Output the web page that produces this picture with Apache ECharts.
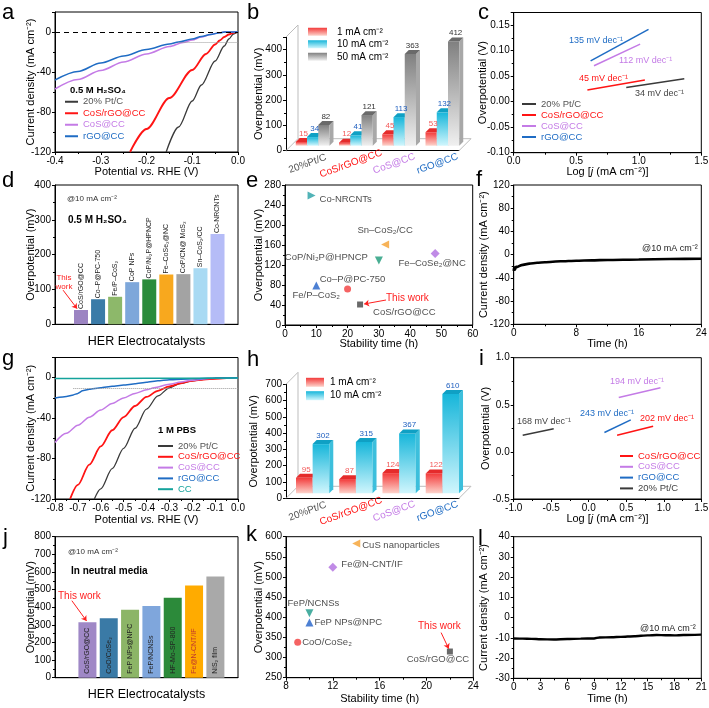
<!DOCTYPE html>
<html><head><meta charset="utf-8">
<script src="https://cdn.jsdelivr.net/npm/echarts@6/dist/echarts.min.js"></script>
<style>html,body{margin:0;padding:0;background:#fff}#c{width:709px;height:708px}</style>
</head><body><div id="c"></div>
<script>
// ================= DATA =================
// (a) LSV in 0.5 M H2SO4 : [potential V, current mA cm-2]
const aNames = ['20% Pt/C','CoS/rGO@CC','CoS@CC','rGO@CC'];
const aPtC   = [[-0.157,-120],[-0.13,-95],[-0.1,-69],[-0.08,-53],[-0.05,-29],[-0.03,-14],[-0.02,-7],[-0.01,-2],[0,0]];
const aCoSrGO= [[-0.236,-120],[-0.2,-97],[-0.15,-66],[-0.1,-38],[-0.07,-22],[-0.05,-12.5],[-0.04,-8.5],[-0.03,-5],[-0.02,-2.5],[-0.01,-0.8],[0,0]];
const aCoS   = [[-0.4,-57],[-0.35,-47.5],[-0.3,-38.5],[-0.25,-30],[-0.2,-22],[-0.15,-14.5],[-0.12,-10.5],[-0.1,-8],[-0.08,-5],[-0.06,-2.5],[-0.04,-0.8],[-0.03,0],[0,0]];
const aRGO   = [[-0.4,-48],[-0.35,-39.5],[-0.3,-31],[-0.25,-24],[-0.2,-17.5],[-0.15,-12],[-0.13,-10],[-0.1,-7],[-0.08,-4.5],[-0.06,-2.5],[-0.04,-0.8],[-0.03,0],[0,0]];
// (b) overpotentials (mV)
const bCats = ['20%Pt/C','CoS/rGO@CC','CoS@CC','rGO@CC'];
const bLegend = ['1 mA cm⁻²','10 mA cm⁻²','50 mA cm⁻²'];
const b1  = [15,12,45,53];
const b10 = [34,41,113,132];
const b50 = [82,121,363,412];
// (c) Tafel lines
const cPt   = [[0.90,0.028],[1.364,0.045]];
const cRed  = [[0.589,0.023],[1.049,0.0425]];
const cVio  = [[0.642,0.0706],[1.011,0.113]];
const cBlue = [[0.615,0.080],[1.078,0.142]];
const cSlopes = ['135 mV dec⁻¹','112 mV dec⁻¹','45 mV dec⁻¹','34 mV dec⁻¹'];
// (d) comparison, acidic
const dNames = ['CoS/rGO@CC','Co–P@PC-750','Fe/P–CoS₂','CoP NFs','CoP/Ni₂P@HPNCP','Fe–CoSe₂@NC','CoP/CN@ MoS₂','Sn–CoS₂/CC','Co-NRCNTs'];
const dVals  = [41,72,79,121,129,143,144,161,259];
// (e) stability vs overpotential, acidic
const eNames = ['Co-NRCNTs','Sn–CoS₂/CC','CoP/Ni₂P@HPNCP','Fe–CoSe₂@NC','Co–P@PC-750','Fe/P–CoS₂','CoS/rGO@CC'];
const eTime  = [8.5,32,30,48,20,10,24];
const eEta   = [259,161,129,143,72,79,41];
// (f) chronoamperometry, acidic
const fCurve = [[0,-28],[0.05,-22],[0.15,-26],[0.3,-21],[0.5,-21],[1,-18],[2,-15.5],[3,-14],[4,-13],[6,-11.5],[8,-10.5],[10,-9.8],[12,-9.2],[16,-8.3],[20,-7.6],[24,-7]];
// (g) LSV in 1 M PBS
const gNames = ['20% Pt/C','CoS/rGO@CC','CoS@CC','rGO@CC','CC'];
const gPtC   = [[-0.628,-120],[-0.6,-110],[-0.55,-90],[-0.5,-70],[-0.45,-50],[-0.4,-31],[-0.35,-18],[-0.3,-10],[-0.25,-5.5],[-0.2,-3],[-0.15,-1.5],[-0.1,-0.6],[0,0]];
const gCoSrGO= [[-0.734,-120],[-0.7,-106],[-0.65,-86],[-0.6,-68],[-0.55,-52],[-0.5,-39],[-0.45,-28],[-0.4,-19],[-0.35,-13],[-0.3,-8.5],[-0.25,-5.5],[-0.2,-3],[-0.15,-1.8],[-0.1,-1],[-0.05,-0.5]];
const gCoS   = [[-0.8,-64],[-0.75,-55],[-0.7,-47],[-0.65,-39],[-0.6,-32],[-0.55,-25.5],[-0.5,-20],[-0.45,-15.5],[-0.4,-12],[-0.367,-10],[-0.3,-6.5],[-0.25,-4.2],[-0.2,-2.5],[-0.15,-1.3],[-0.1,-0.5],[0,0]];
const gRGO   = [[-0.8,-20],[-0.75,-18.5],[-0.72,-17],[-0.7,-15.5],[-0.68,-13],[-0.65,-11.5],[-0.6,-10],[-0.55,-8.5],[-0.5,-7.3],[-0.45,-6],[-0.4,-4.5],[-0.35,-3],[-0.3,-2],[-0.2,-1],[-0.1,-0.4],[0,0]];
const gCC    = [[-0.8,-0.8],[-0.4,-0.6],[0,-0.3]];
// (h) overpotentials, neutral
const hCats = ['20%Pt/C','CoS/rGO@CC','CoS@CC','rGO@CC'];
const hLegend = ['1 mA cm⁻²','10 mA cm⁻²'];
const h1  = [95,87,124,122];
const h10 = [302,315,367,610];
// (i) Tafel, neutral
const iNames = ['CoS/rGO@CC','CoS@CC','rGO@CC','20% Pt/C'];
const iRed  = [[0.378,0.177],[0.858,0.273]];
const iVio  = [[0.40,0.578],[0.956,0.681]];
const iBlue = [[0.209,0.206],[0.56,0.34]];
const iPt   = [[-0.88,0.177],[-0.467,0.245]];
const iSlopes = ['194 mV dec⁻¹','243 mV dec⁻¹','202 mV dec⁻¹','168 mV dec⁻¹'];
// (j) comparison, neutral
const jNames = ['CoS/rGO@CC','CoO/CoSe₂','FeP NPs@NPC','FeP/NCNSs','HF-Mo-SP-800','Fe@N-CNT/IF','NiS₂ film'];
const jVals  = [315,337,385,407,454,523,574];
// (k) stability vs overpotential, neutral
const kNames = ['CuS nanoparticles','Fe@N-CNT/IF','FeP/NCNSs','FeP NPs@NPC','CoO/CoSe₂','CoS/rGO@CC'];
const kTime  = [14,12,10,10,9,22];
const kEta   = [583,524,410,387,338,315];
// (l) chronoamperometry, neutral
const lCurve = [[0,-10.3],[1,-10.4],[2,-10.5],[3,-10.7],[4.5,-10.8],[6,-10.6],[7.5,-10.4],[9,-10.3],[9.6,-9.8],[11,-9.7],[12,-9.5],[13.5,-9.2],[15,-8.8],[16,-8.6],[17,-8.7],[18,-8.8],[19,-8.6],[21,-8.4]];

// ================= STYLE / HELPERS =================
const FONT = '"Liberation Sans", Arial, Helvetica, sans-serif';
const C = {pt:'#3a3a3a', ptTxt:'#555555', red:'#ff1414', vio:'#c47be6', blue:'#1f6cc4', teal:'#14a39c'};
const grid=[], xAxis=[], yAxis=[], series=[], legend=[], graphic=[];

function multiples(interval, dec, min){
  return v => { const k=(v-min)/interval; return Math.abs(k-Math.round(k))<1e-6 ? (Math.abs(v)<1e-9?0:v).toFixed(dec) : ''; };
}
function addGrid(l,t,r,b,box){
  grid.push({left:l, top:t, width:r-l, height:b-t, show:!!box, borderColor:'#000', borderWidth:box?1:0,
    backgroundColor:'transparent', containLabel:false, outerBoundsMode:'none'});
  return grid.length-1;
}
function vAxis(gi,min,max,interval,dec,extra){
  const ax = {type:'value', gridIndex:gi, min, max, interval, scale:true,
    axisLine:{show:true,onZero:false,lineStyle:{color:'#000',width:1}},
    axisTick:{show:true,inside:false,length:3,lineStyle:{color:'#000',width:1}},
    minorTick:{show:true,splitNumber:2,length:2,lineStyle:{color:'#000',width:1}},
    splitLine:{show:false}, minorSplitLine:{show:false},
    axisLabel:{show:true,fontSize:10,color:'#000',fontFamily:FONT,margin:4,formatter:multiples(interval,dec,min),showMinLabel:true,showMaxLabel:true},
    nameLocation:'middle', nameMoveOverlap:false,
    nameTextStyle:{fontSize:11,color:'#000',fontFamily:FONT}};
  return Object.assign(ax, extra||{});
}
function hiddenX(gi,min,max,name,gap){
  return {type:'value', gridIndex:gi, min, max,
    axisLine:{show:true,onZero:false,lineStyle:{color:'#000',width:1}},
    axisTick:{show:false}, minorTick:{show:false}, splitLine:{show:false}, axisLabel:{show:false},
    name, nameLocation:'middle', nameGap:gap, nameMoveOverlap:false,
    nameTextStyle:{fontSize:12.5,color:'#000',fontFamily:FONT}};
}
function catX(gi,cats){
  return {type:'category', gridIndex:gi, data:cats,
    axisLine:{show:true,lineStyle:{color:'#000',width:1}}, axisTick:{show:false},
    axisLabel:{show:false}, splitLine:{show:false}};
}
const richName = {n:{fontSize:11,fontFamily:FONT,color:'#000'}, i:{fontSize:11,fontFamily:FONT,color:'#000',fontStyle:'italic'}};
const potName = '{n|Potential }{i|vs.}{n| RHE (V)}';
const logName = '{n|Log [}{i|j}{n| (mA cm⁻²)]}';
function line(gi,name,data,color,width,extra){
  return Object.assign({type:'line', name, xAxisIndex:gi, yAxisIndex:gi, data, showSymbol:false, symbol:'none',
    smooth:0.3, smoothMonotone:'x', lineStyle:{color,width}, itemStyle:{color}, silent:true, animation:false, z:3}, extra||{});
}
function addLegend(prefix,names,colors,left,top,lh,fs,iw,ih,extraText){
  legend.push({show:true, orient:'vertical', left, top, padding:0, itemGap:0, itemWidth:iw, itemHeight:ih, icon:'rect',
    selectedMode:false, textStyle:Object.assign({fontSize:fs, lineHeight:lh, fontFamily:FONT}, extraText||{}),
    formatter: n => n.split('|')[1],
    data: names.map((n,i)=>({name:prefix+'|'+n, textStyle:{color:colors[i]}}))});
}
function txt(x,y,text,opts){
  graphic.push({type:'text', x, y, z:100, silent:true,
    style:Object.assign({text, fill:'#000', fontSize:10, fontFamily:FONT, align:'left', verticalAlign:'middle'}, opts||{})});
}
function arrowLine(p1,p2){
  return {silent:true, animation:false, symbol:['none','arrow'], symbolSize:5, label:{show:false},
    lineStyle:{color:'#ff2020',width:1,type:'solid'}, data:[[{coord:p1},{coord:p2}]]};
}
function frame3D(gi,D){
  return {type:'custom', xAxisIndex:gi, yAxisIndex:gi, data:[[0,0]], z:1, silent:true, animation:false,
    renderItem(params, api){
      const cs=params.coordSys, x0=cs.x, x1=cs.x+cs.width, yt=cs.y, y0=cs.y+cs.height;
      const st={stroke:'#bdbdbd', lineWidth:1, fill:null};
      return {type:'group', children:[
        {type:'polyline', shape:{points:[[x0,yt],[x0+D,yt-D],[x0+D,y0-D],[x0,y0]]}, style:st},
        {type:'polyline', shape:{points:[[x0+D,y0-D],[x1+D,y0-D],[x1,y0]]}, style:st}
      ]};
    }};
}
// category labels of the 3D panels, centred under each category and tilted
function catLabels3D(gi,cats,colors){
  return {type:'custom', xAxisIndex:gi, yAxisIndex:gi, silent:true, animation:false, z:4, encode:{x:0,y:1},
    data:cats.map((c,i)=>[i,0]),
    renderItem(params, api){
      const i=api.value(0), p=api.coord([i,0]);
      return {type:'text', x:p[0], y:p[1]+13, rotation:20*Math.PI/180,
        style:{text:cats[i], fill:colors[i], fontSize:10, fontFamily:FONT, align:'center', verticalAlign:'middle'}};
    }};
}
function grad(p){ return new echarts.graphic.LinearGradient(0,0,0,1,[{offset:0,color:p.top},{offset:1,color:p.bottom}]); }
function bar3D(gi,name,vals,s,nS,frac,pal){
  return {type:'custom', name, xAxisIndex:gi, yAxisIndex:gi, silent:true, animation:false, z:3,
    itemStyle:{color:grad(pal)}, encode:{x:0,y:1}, data:vals.map((v,i)=>[i,v]),
    renderItem(params, api){
      const ci=api.value(0), v=api.value(1);
      const p0=api.coord([ci,0]), p1=api.coord([ci,v]);
      const band=api.size([1,0])[0];
      const w=band*frac, sh=5, d=4;
      const x0=p0[0]-w*nS/2+s*w+sh, x1=x0+w, yb=p0[1]-sh, yt=p1[1]-sh;
      return {type:'group', children:[
        {type:'polygon', shape:{points:[[x0,yb],[x1,yb],[x1,yt],[x0,yt]]}, style:{fill:grad(pal)}},
        {type:'polygon', shape:{points:[[x1,yb],[x1+d,yb-d],[x1+d,yt-d],[x1,yt]]}, style:{fill:pal.side}},
        {type:'polygon', shape:{points:[[x0,yt],[x1,yt],[x1+d,yt-d],[x0+d,yt-d]]}, style:{fill:pal.cap}},
        {type:'text', z2:50, style:{text:String(v), x:(x0+x1+d)/2, y:yt-d-0.5, align:'center', verticalAlign:'bottom', fill:pal.label, fontSize:8, fontFamily:FONT}}
      ]};
    }};
}
const pal1  = {top:'#f33b3b', bottom:'#fdd3cb', cap:'#e52b2b', side:'#ee6a6a', label:'#f35a5a'};
const pal10 = {top:'#17b6da', bottom:'#d0f6fd', cap:'#0fa0c4', side:'#3cbfdc', label:'#1f5fbf'};
const pal50 = {top:'#808080', bottom:'#f0f0f0', cap:'#6a6a6a', side:'#a8a8a8', label:'#333333'};
const catColors = ['#555555', C.red, C.vio, C.blue];

// ================= PANEL a =================
const gA = addGrid(55,12,238,152,true);
xAxis.push(vAxis(gA,-0.4,0,0.1,1,{name:potName, nameGap:14, nameTextStyle:{rich:richName}}));
yAxis.push(vAxis(gA,-120,20,40,0,{name:'Current density (mA cm⁻²)', nameGap:19}));
series.push(line(gA,'a|'+aNames[0],aPtC,C.pt,1.3,{markLine:{silent:true,animation:false,symbol:['none','none'],label:{show:false},
  data:[[{coord:[-0.4,0],lineStyle:{type:[5,4],color:'#000',width:1}},{coord:[0,0]}],
        [{coord:[-0.13,-10],lineStyle:{type:'dotted',color:'#9a9a9a',width:1}},{coord:[0,-10]}]]}}));
series.push(line(gA,'a|'+aNames[1],aCoSrGO,C.red,1.8));
series.push(line(gA,'a|'+aNames[2],aCoS,C.vio,1.5));
series.push(line(gA,'a|'+aNames[3],aRGO,C.blue,1.5));
addLegend('a',aNames,[C.ptTxt,C.red,C.vio,C.blue],65,96,11.5,9.5,13,2);
txt(70,90,'0.5 M H₂SO₄',{fontWeight:'bold',fontSize:9.5});

// ================= PANEL b =================
const gB = addGrid(286,37,459,150.7,false);
xAxis.push(catX(gB,bCats));
yAxis.push(vAxis(gB,0,450,100,0,{name:'Overpotential (mV)', nameGap:22}));
series.push(frame3D(gB,12));
series.push(bar3D(gB,'b|'+bLegend[0],b1,0,3,0.26,pal1));
series.push(bar3D(gB,'b|'+bLegend[1],b10,1,3,0.26,pal10));
series.push(bar3D(gB,'b|'+bLegend[2],b50,2,3,0.26,pal50));
series.push(catLabels3D(gB,bCats,catColors));
addLegend('b',bLegend,['#000','#000','#000'],308,25.5,12.5,10,19,8,{padding:[0,0,0,5]});

// ================= PANEL c =================
const gC = addGrid(513.7,12.5,701.3,152.7,true);
xAxis.push(vAxis(gC,0,1.5,0.5,1,{name:logName, nameGap:14, nameTextStyle:{rich:richName}}));
yAxis.push(vAxis(gC,-0.1,0.175,0.05,2,{name:'Overpotential (V)', nameGap:25}));
series.push(line(gC,'c|20% Pt/C',cPt,C.pt,1.5,{smooth:false}));
series.push(line(gC,'c|CoS/rGO@CC',cRed,C.red,1.5,{smooth:false}));
series.push(line(gC,'c|CoS@CC',cVio,C.vio,1.5,{smooth:false}));
series.push(line(gC,'c|rGO@CC',cBlue,C.blue,1.5,{smooth:false}));
addLegend('c',aNames,[C.ptTxt,C.red,C.vio,C.blue],522,98.5,11,9.5,14,2);
txt(569,41,cSlopes[0],{fill:C.blue,fontSize:9});
txt(619,61,cSlopes[1],{fill:C.vio,fontSize:9});
txt(579,79,cSlopes[2],{fill:C.red,fontSize:9});
txt(635,94,cSlopes[3],{fill:'#444',fontSize:9});

// ================= PANEL d =================
const gD = addGrid(55,185,238,324.3,true);
xAxis.push(hiddenX(gD,-0.524,10.2,'HER Electrocatalysts',11));
yAxis.push(vAxis(gD,0,400,100,0,{name:'Overpotential (mV)', nameGap:19}));
const dColors = ['#9c84c2','#3a7ba8','#8db86a','#7ea7da','#2b8c3b','#f8a81e','#a3a3a3','#a9daf3','#b5bcf7'];
series.push({type:'bar', xAxisIndex:gD, yAxisIndex:gD, barWidth:14, silent:true, animation:false,
  data:dVals.map((v,i)=>({value:[i+1,v], name:dNames[i], itemStyle:{color:dColors[i]}})),
  label:{show:true, formatter:'{b}', position:'top', rotate:90, align:'left', verticalAlign:'middle', distance:1, fontSize:7, fontFamily:FONT, color:'#222'},
  markLine:arrowLine([-0.05,98],[0.77,45])});
txt(67,199,'@10 mA cm⁻²',{fontSize:8,fill:'#333'});
txt(68,220,'0.5 M H₂SO₄',{fontWeight:'bold',fontSize:10});
txt(64,278,'This',{fontSize:8,fill:'#ff2020',align:'center'});
txt(64,287,'work',{fontSize:8,fill:'#ff2020',align:'center'});

// ================= PANEL e =================
const gE = addGrid(285,185,472.7,325,true);
xAxis.push(vAxis(gE,0,60,10,0,{name:'Stability time (h)', nameGap:13}));
yAxis.push(vAxis(gE,0,280,40,0,{name:'Overpotential (mV)', nameGap:21}));
const eSym = ['triangle','triangle','triangle','diamond','circle','triangle','rect'];
const eRot = [-90,90,180,0,0,0,0];
const eSize = [8,8,8,9,7,8,6];
const eCol = ['#25a0a5','#f5a030','#1b9a78','#b06ee0','#f23c3c','#2060c8','#444444'];
const eLab = [{position:'right',distance:4,offset:[0,4]},{position:'top',distance:5},{position:'left',distance:7,offset:[0,-3]},
  {position:'bottom',distance:0,offset:[-3,0]},{position:'top',distance:1,offset:[5,0]},{position:'bottom',distance:1},{position:'right',distance:10,offset:[0,8]}];
series.push({type:'scatter', xAxisIndex:gE, yAxisIndex:gE, silent:true, animation:false,
  data:eNames.map((n,i)=>({name:n, value:[eTime[i],eEta[i]], symbol:eSym[i], symbolRotate:eRot[i], symbolSize:eSize[i], itemStyle:{color:eCol[i]}, label:eLab[i]})),
  label:{show:true, formatter:'{b}', fontSize:9.5, fontFamily:FONT, color:'#222'},
  markLine:arrowLine([32.3,50],[25.3,42])});
txt(386,298,'This work',{fill:'#ff2020'});

// ================= PANEL f =================
const gF = addGrid(513.7,185,701.3,324.3,true);
xAxis.push(vAxis(gF,0,24,8,0,{name:'Time (h)', nameGap:14}));
yAxis.push(vAxis(gF,-120,120,40,0,{name:'Current density (mA cm⁻²)', nameGap:24}));
series.push(line(gF,'f',fCurve,'#000',2.6,{smooth:0.2}));
txt(642,249,'@10 mA cm⁻²',{fontSize:9,fill:'#222'});

// ================= PANEL g =================
const gG = addGrid(55,357.5,238,499,true);
xAxis.push(vAxis(gG,-0.8,0,0.1,1,{name:potName, nameGap:15, nameTextStyle:{rich:richName}}));
yAxis.push(vAxis(gG,-120,20,40,0,{name:'Current density (mA cm⁻²)', nameGap:19}));
series.push(line(gG,'g|'+gNames[0],gPtC,C.pt,1.3,{markLine:{silent:true,animation:false,symbol:['none','none'],label:{show:false},
  data:[[{coord:[-0.72,-10],lineStyle:{type:'dotted',color:'#9a9a9a',width:1}},{coord:[0,-10]}]]}}));
series.push(line(gG,'g|'+gNames[1],gCoSrGO,C.red,1.8));
series.push(line(gG,'g|'+gNames[2],gCoS,C.vio,1.5));
series.push(line(gG,'g|'+gNames[3],gRGO,C.blue,1.5,{smooth:0.15}));
series.push(line(gG,'g|'+gNames[4],gCC,C.teal,1.5));
addLegend('g',gNames,[C.ptTxt,C.red,C.vio,C.blue,C.teal],158,440.6,10.8,9.5,15,2);
txt(158,430.7,'1 M PBS',{fontWeight:'bold',fontSize:9.5});

// ================= PANEL h =================
const gH = addGrid(286,384.3,459,498.3,false);
xAxis.push(catX(gH,hCats));
yAxis.push(vAxis(gH,0,700,100,0,{name:'Overpotential (mV)', nameGap:27}));
series.push(frame3D(gH,12));
series.push(bar3D(gH,'h|'+hLegend[0],h1,0,2,0.385,pal1));
series.push(bar3D(gH,'h|'+hLegend[1],h10,1,2,0.385,pal10));
series.push(catLabels3D(gH,hCats,catColors));
addLegend('h',hLegend,['#000','#000'],306,375.6,13.4,10,18,9,{padding:[0,0,0,1]});

// ================= PANEL i =================
const gI = addGrid(513.7,357.7,701.3,499,true);
xAxis.push(vAxis(gI,-1,1.5,0.5,1,{name:logName, nameGap:14, nameTextStyle:{rich:richName}}));
yAxis.push(vAxis(gI,-0.5,1,0.5,1,{name:'Overpotential (V)', nameGap:22}));
series.push(line(gI,'i|'+iNames[0],iRed,C.red,1.5,{smooth:false}));
series.push(line(gI,'i|'+iNames[1],iVio,C.vio,1.5,{smooth:false}));
series.push(line(gI,'i|'+iNames[2],iBlue,C.blue,1.5,{smooth:false}));
series.push(line(gI,'i|'+iNames[3],iPt,C.pt,1.5,{smooth:false}));
addLegend('i',iNames,[C.red,C.vio,C.blue,'#444'],620,450.6,10.8,9.5,13,2);
txt(610,382,iSlopes[0],{fill:C.vio,fontSize:9});
txt(580,414,iSlopes[1],{fill:C.blue,fontSize:9});
txt(640,419,iSlopes[2],{fill:C.red,fontSize:9});
txt(517,421.7,iSlopes[3],{fill:'#444',fontSize:9});

// ================= PANEL j =================
const gJ = addGrid(55,536.7,238,677.7,true);
xAxis.push(hiddenX(gJ,-0.52,8.06,'HER Electrocatalysts',10));
yAxis.push(vAxis(gJ,0,800,100,0,{name:'Overpotential (mV)', nameGap:19}));
const jColors = ['#9f88c6','#3a7aa6','#8cb567','#7fa6dc','#2c8a3a','#ffab00','#a9a9a9'];
const jLabelColors = ['#222','#222','#222','#222','#222','#c0392b','#222'];
series.push({type:'bar', xAxisIndex:gJ, yAxisIndex:gJ, barWidth:18, silent:true, animation:false,
  data:jVals.map((v,i)=>({value:[i+1,v], name:jNames[i], itemStyle:{color:jColors[i]}, label:{color:jLabelColors[i]}})),
  label:{show:true, formatter:'{b}', position:'insideBottom', rotate:90, align:'left', verticalAlign:'middle', distance:4, fontSize:7, fontFamily:FONT, color:'#222'},
  markLine:arrowLine([0.27,437],[0.96,322])});
txt(68,551.7,'@10 mA cm⁻²',{fontSize:8,fill:'#333'});
txt(71,571.7,'In neutral media',{fontWeight:'bold',fontSize:10});
txt(58,596,'This work',{fill:'#ff2020'});

// ================= PANEL k =================
const gK = addGrid(286,536.7,473.3,677.7,true);
xAxis.push(vAxis(gK,8,24,4,0,{name:'Stability time (h)', nameGap:16}));
yAxis.push(vAxis(gK,250,600,50,0,{name:'Overpotential (mV)', nameGap:22}));
const kSym = ['triangle','diamond','triangle','triangle','circle','rect'];
const kRot = [90,0,180,0,0,0];
const kSize = [8,9,8,8,7,6];
const kCol = ['#f5a030','#b06ee0','#1b9a8a','#2060c8','#f23c3c','#444444'];
const kLab = [{position:'right',distance:2,offset:[0,2]},{position:'right',distance:4,offset:[0,-3]},{position:'top',distance:1,offset:[4,0]},
  {position:'right',distance:1},{position:'right',distance:1},{position:'bottom',distance:0,offset:[-12,0]}];
series.push({type:'scatter', xAxisIndex:gK, yAxisIndex:gK, silent:true, animation:false,
  data:kNames.map((n,i)=>({name:n, value:[kTime[i],kEta[i]], symbol:kSym[i], symbolRotate:kRot[i], symbolSize:kSize[i], itemStyle:{color:kCol[i]}, label:kLab[i]})),
  label:{show:true, formatter:'{b}', fontSize:9.5, fontFamily:FONT, color:'#222'},
  markLine:arrowLine([21.25,362],[21.9,322])});
txt(418,626.7,'This work',{fill:'#ff2020'});

// ================= PANEL l =================
const gL = addGrid(513.7,536.7,701.3,678.3,true);
xAxis.push(vAxis(gL,0,21,3,0,{name:'Time (h)', nameGap:15}));
yAxis.push(vAxis(gL,-30,40,10,0,{name:'Current density (mA cm⁻²)', nameGap:24}));
series.push(line(gL,'l',lCurve,'#000',2.4,{smooth:0.2}));
txt(640,629,'@10 mA cm⁻²',{fontSize:9,fill:'#222'});

// ================= panel letters =================
const letters = [['a',2,20],['b',247,20],['c',478,20],['d',2,188],['e',246,188],['f',476,187],['g',2,366],['h',247,367],['i',479,366],['j',3,545],['k',246,542],['l',478,546]];
letters.forEach(([t,x,y])=>txt(x,y-7.5,t,{fontSize:22,fill:'#000'}));

const chart = echarts.init(document.getElementById('c'), null, {renderer:'canvas', width:709, height:708});
chart.setOption({animation:false, backgroundColor:'#fff', textStyle:{fontFamily:FONT},
  grid, xAxis, yAxis, series, legend, graphic});
</script></body></html>
